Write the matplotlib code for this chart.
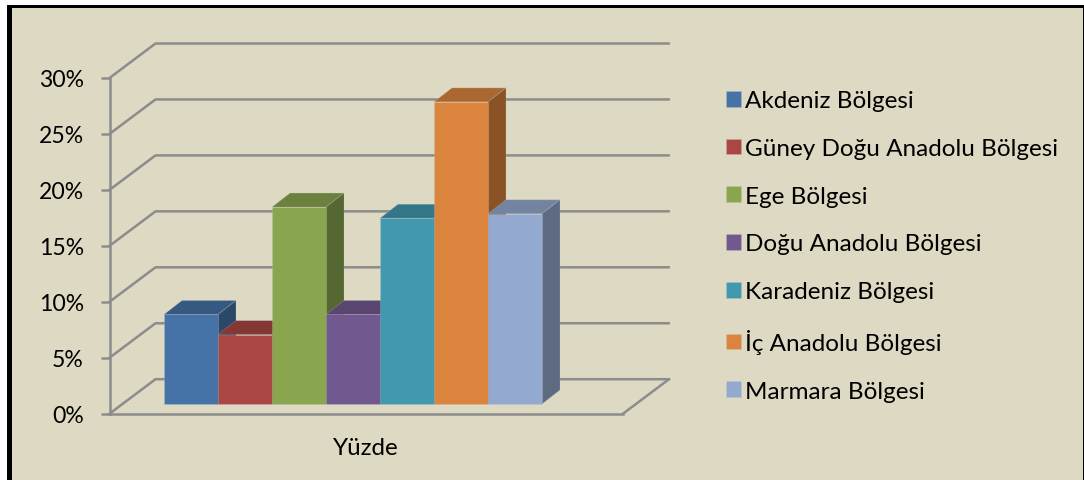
import matplotlib
matplotlib.use('Agg')
import matplotlib.pyplot as plt
from matplotlib.colors import to_rgb
from matplotlib.patches import Polygon, Rectangle

plt.rcParams['font.family'] = ['Lato', 'DejaVu Sans']

regions = ['Akdeniz Bölgesi', 'Güney Doğu Anadolu Bölgesi', 'Ege Bölgesi',
           'Doğu Anadolu Bölgesi', 'Karadeniz Bölgesi', 'İç Anadolu Bölgesi',
           'Marmara Bölgesi']
values = [8.0, 6.2, 17.6, 8.0, 16.6, 27.0, 17.0]
colors = ['#4572A7', '#AA4643', '#89A54E', '#71588F', '#4198AF', '#DB843D', '#93A9CF']
y_ticks = [0, 5, 10, 15, 20, 25, 30]
y_labels = ['0%', '5%', '10%', '15%', '20%', '25%', '30%']
category = 'Yüzde'

W, H = 1084, 481
GRID = '#8C8C8C'
BG = '#DDD9C3'
EDGE = (0.78, 0.80, 0.80, 0.25)

# eksen piksel olarak
left, right, bottom, top = 109.5, 623.0, 414.7, 79.0
px_x = 54.0
px_y = (bottom - top) / 30.0

# derinlikler (veri biriminde)
wall_dx, wall_dy = 46.0 / px_x, 34.5 / px_y
bar_dx, bar_dy = 18.0 / px_x, 14.0 / px_y
base = 9.7 / px_y
start = (164.0 - left) / px_x


def shade(color, k):
    return tuple(c * k for c in to_rgb(color))


fig = plt.figure(figsize=(W / 100, H / 100), dpi=100, facecolor='white')

# arka plan ve siyah cerceve
fig.add_artist(Rectangle((7 / W, 0), 1077 / W, 1 - 6 / H, transform=fig.transFigure,
                         facecolor='black', edgecolor='none', zorder=-3))
fig.add_artist(Rectangle((12 / W, 0), 1071 / W, 1 - 9 / H, transform=fig.transFigure,
                         facecolor=BG, edgecolor='none', zorder=-2))

ax = fig.add_axes([left / W, 1 - bottom / H, (right - left) / W, (bottom - top) / H])
ax.patch.set_visible(False)
ax.set_xlim(0, (right - left) / px_x)
ax.set_ylim(0, 30)

for s in ['top', 'right']:
    ax.spines[s].set_visible(False)
for s in ['left', 'bottom']:
    ax.spines[s].set_color(GRID)
    ax.spines[s].set_linewidth(1.8)

x_end = (right - left) / px_x

# arka duvar cizgileri
for t in y_ticks:
    ax.plot([0, wall_dx, x_end + wall_dx], [t, t + wall_dy, t + wall_dy],
            color=GRID, lw=1.8, clip_on=False, zorder=1, solid_capstyle='round')
ax.plot([x_end, x_end + wall_dx], [0, wall_dy], color=GRID, lw=1.8, clip_on=False, zorder=1)

# cubuklar
for i, (name, v, c) in enumerate(zip(regions, values, colors)):
    x0 = start + i
    z = 3 + i
    ax.add_patch(Polygon([(x0, base + v), (x0 + 1, base + v),
                          (x0 + 1 + bar_dx, base + v + bar_dy), (x0 + bar_dx, base + v + bar_dy)],
                         facecolor=shade(c, 0.78), edgecolor=EDGE, lw=0.6, clip_on=False, zorder=z))
    ax.add_patch(Polygon([(x0 + 1, base), (x0 + 1 + bar_dx, base + bar_dy),
                          (x0 + 1 + bar_dx, base + v + bar_dy), (x0 + 1, base + v)],
                         facecolor=shade(c, 0.63), edgecolor=EDGE, lw=0.6, clip_on=False, zorder=z))
    ax.bar(x0, v, width=1.0, bottom=base, align='edge', color=c, label=name,
           edgecolor=EDGE, lw=0.6, clip_on=False, zorder=z + 0.5)

ax.set_yticks(y_ticks)
ax.set_yticklabels(y_labels, fontsize=16.6)
ax.tick_params(axis='y', length=6.5, width=1.8, color=GRID, pad=12)
ax.set_xticks([x_end / 2])
ax.set_xticklabels([category], fontsize=17.4)
ax.tick_params(axis='x', length=0, pad=17)

ax.legend(loc='center left', bbox_to_anchor=(725.5 / W, 1 - 247 / H),
          bbox_transform=fig.transFigure, frameon=False, fontsize=17.5,
          handlelength=0.62, handleheight=0.62, handletextpad=0.2,
          labelspacing=1.10, borderpad=0, borderaxespad=0)

fig.savefig('out.png', dpi=100, facecolor=fig.get_facecolor())
